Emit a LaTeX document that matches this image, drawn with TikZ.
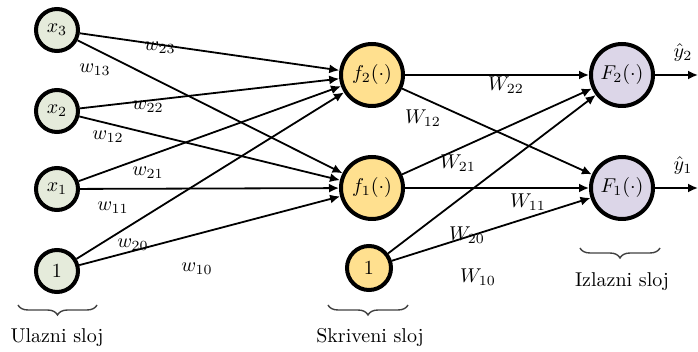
\documentclass[tikz,border=0pt]{standalone}
\usepackage{tikz}
\usetikzlibrary{arrows.meta, positioning, decorations.pathreplacing}
\definecolor{inputfill}{HTML}{E5EBDB}
\definecolor{hiddenfill}{HTML}{FFE08F}
\definecolor{outputfill}{HTML}{DCD6E8}

\begin{document}
\begin{tikzpicture}[
        x=0.5pt, y=-0.5pt,
        innode/.style={circle, draw=black, line width=2pt, fill=inputfill, minimum size=21pt, inner sep=0pt},
        hidnode/.style={circle, draw=black, line width=2pt, fill=hiddenfill, minimum size=31pt, inner sep=0pt},
        biasnode/.style={hidnode, minimum size=22pt},
        outnode/.style={circle, draw=black, line width=2pt, fill=outputfill, minimum size=31pt, inner sep=0pt},
        arrow/.style={-{Latex[length=5pt, width=4.5pt]}, line width=0.9pt},
        layerbrace/.style={decorate, decoration={brace, mirror, amplitude=5pt}, line width=0.7pt, draw=black!75},
        layerlabel/.style={font=\normalsize}
    ]
    \useasboundingbox (0,0) rectangle (698,352);

    % Input layer
    \node[innode] (x3) at (57,30) {$x_3$};
    \node[innode] (x2) at (57,111) {$x_2$};
    \node[innode] (x1) at (57,189) {$x_1$};
    \node[innode] (b0) at (57,271) {$1$};

    % Hidden layer
    \node[hidnode] (f2) at (372,75) {$f_2(\cdot)$};
    \node[hidnode] (f1) at (372,188) {$f_1(\cdot)$};
    \node[biasnode] (b1) at (369,268) {$1$};

    % Output layer
    \node[outnode] (F2) at (622,75) {$F_2(\cdot)$};
    \node[outnode] (F1) at (622,188) {$F_1(\cdot)$};
    \coordinate (y2end) at (698,75);
    \coordinate (y1end) at (698,188);

    % Arrows, input to hidden
    \draw[arrow] (x3) -- (f2);
    \draw[arrow] (x3) -- (f1);
    \draw[arrow] (x2) -- (f2);
    \draw[arrow] (x2) -- (f1);
    \draw[arrow] (x1) -- (f2);
    \draw[arrow] (x1) -- (f1);
    \draw[arrow] (b0) -- (f2);
    \draw[arrow] (b0) -- (f1);

    % Arrows, hidden to output
    \draw[arrow] (f2) -- (F2);
    \draw[arrow] (f2) -- (F1);
    \draw[arrow] (f1) -- (F2);
    \draw[arrow] (f1) -- (F1);
    \draw[arrow] (b1) -- (F2);
    \draw[arrow] (b1) -- (F1);
    \draw[arrow] (F2) -- (y2end);
    \draw[arrow] (F1) -- (y1end);

    % Weights
    \node (w23) at (160,48) {$w_{23}$};
    \node (w13) at (95,70) {$w_{13}$};
    \node (w22) at (148,107) {$w_{22}$};
    \node (w12) at (108,137) {$w_{12}$};
    \node (w21) at (148,173) {$w_{21}$};
    \node (w11) at (113,208) {$w_{11}$};
    \node (w20) at (133,245) {$w_{20}$};
    \node (w10) at (197,269) {$w_{10}$};
    \node (W22) at (506,85) {$W_{22}$};
    \node (W12) at (423,118) {$W_{12}$};
    \node (W21) at (458,163) {$W_{21}$};
    \node (W11) at (528,202) {$W_{11}$};
    \node (W20) at (467,235) {$W_{20}$};
    \node (W10) at (478,277) {$W_{10}$};
    \node (y2lab) at (683,53) {$\hat{y}_2$};
    \node (y1lab) at (683,166) {$\hat{y}_1$};

    % Layer braces
    \draw[layerbrace] (18,305) -- (97,305);
    \node[layerlabel] (inlab) at (57,338) {Ulazni sloj};
    \draw[layerbrace] (328,305) -- (408,305);
    \node[layerlabel] (hidlab) at (370,338) {Skriveni sloj};
    \draw[layerbrace] (580,248) -- (660,248);
    \node[layerlabel] (outlab) at (622,282) {Izlazni sloj};

    \end{tikzpicture}
\end{document}
